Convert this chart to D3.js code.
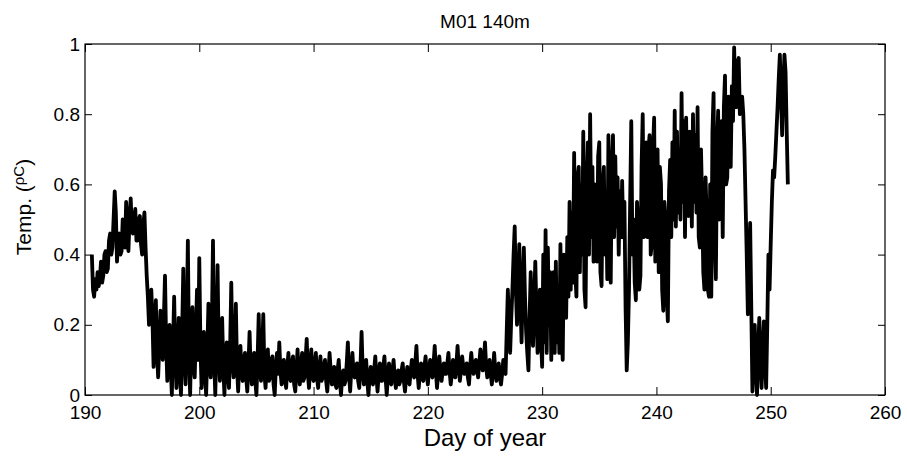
<!DOCTYPE html>
<html>
<head>
<meta charset="utf-8">
<script src="https://cdn.jsdelivr.net/npm/d3@7"></script>
<style>
  body { margin: 0; background: #fff; }
  svg { display: block; font-family: "Liberation Sans", Arial, sans-serif; }
  .tick text { font-size: 19px; fill: #000; }
  .tick line { stroke: #000; }
</style>
</head>
<body>
<div id="chart"></div>
<script>
/*
 * Data: temperature at M01 140m, one value every 0.1 day
 */
const startDay = 190.6;
const stepDay = 0.1;

const temp190 = [0.40, 0.30, 0.28, 0.33,
  0.30, 0.35, 0.31, 0.33, 0.38, 0.32, 0.34, 0.40, 0.41, 0.35,
  0.36, 0.44, 0.46, 0.40, 0.42, 0.50, 0.58, 0.52, 0.38, 0.44,
  0.46, 0.40, 0.41, 0.50, 0.47, 0.42, 0.55, 0.48, 0.41, 0.50,
  0.56, 0.47, 0.46, 0.50, 0.53, 0.44, 0.44, 0.50, 0.51, 0.43,
  0.40, 0.48, 0.52, 0.42, 0.34, 0.28, 0.20, 0.27, 0.30, 0.22,
  0.08, 0.18, 0.27, 0.12, 0.05, 0.14, 0.24, 0.16, 0.10, 0.22,
  0.34, 0.15, 0.04, 0.12, 0.20, 0.08, 0.00, 0.14, 0.28, 0.12,
  0.02, 0.10, 0.22, 0.06, 0.00, 0.18, 0.36, 0.10, 0.03, 0.20,
  0.44, 0.12, 0.00, 0.16, 0.25, 0.08, 0.05, 0.18, 0.30, 0.10];
const temp200 = [0.39, 0.14, 0.02, 0.10, 0.18, 0.06, 0.00, 0.12, 0.26, 0.08,
  0.05, 0.20, 0.44, 0.10, 0.00, 0.15, 0.37, 0.12, 0.04, 0.16,
  0.22, 0.08, 0.00, 0.10, 0.15, 0.06, 0.02, 0.14, 0.32, 0.10,
  0.05, 0.12, 0.26, 0.08, 0.01, 0.09, 0.14, 0.06, 0.04, 0.10,
  0.12, 0.05, 0.01, 0.08, 0.18, 0.07, 0.03, 0.10, 0.12, 0.04,
  0.00, 0.10, 0.23, 0.08, 0.04, 0.12, 0.23, 0.06, 0.02, 0.09,
  0.13, 0.04, 0.05, 0.10, 0.11, 0.03, 0.00, 0.08, 0.12, 0.06,
  0.15, 0.07, 0.03, 0.09, 0.10, 0.04, 0.02, 0.08, 0.12, 0.05,
  0.04, 0.09, 0.11, 0.03, 0.01, 0.07, 0.13, 0.06, 0.03, 0.08,
  0.12, 0.04, 0.05, 0.10, 0.16, 0.06, 0.02, 0.08, 0.13, 0.05];
const temp210 = [0.04, 0.09, 0.12, 0.05, 0.02, 0.07, 0.11, 0.04, 0.05, 0.08,
  0.10, 0.04, 0.01, 0.06, 0.12, 0.07, 0.03, 0.06, 0.08, 0.03,
  0.02, 0.07, 0.10, 0.04, 0.00, 0.05, 0.07, 0.03, 0.04, 0.09,
  0.15, 0.06, 0.01, 0.07, 0.12, 0.06, 0.05, 0.08, 0.09, 0.04,
  0.02, 0.08, 0.18, 0.07, 0.03, 0.06, 0.10, 0.04, 0.00, 0.05,
  0.08, 0.04, 0.03, 0.07, 0.11, 0.05, 0.01, 0.06, 0.09, 0.04,
  0.04, 0.08, 0.11, 0.05, 0.00, 0.05, 0.09, 0.04, 0.03, 0.07,
  0.10, 0.05, 0.02, 0.05, 0.07, 0.03, 0.04, 0.07, 0.09, 0.04,
  0.01, 0.05, 0.08, 0.04, 0.03, 0.07, 0.10, 0.06, 0.05, 0.09,
  0.14, 0.06, 0.02, 0.06, 0.09, 0.05, 0.04, 0.08, 0.11, 0.06];
const temp220 = [0.03, 0.07, 0.10, 0.06, 0.05, 0.09, 0.14, 0.07, 0.02, 0.06,
  0.11, 0.07, 0.04, 0.07, 0.09, 0.06, 0.06, 0.09, 0.12, 0.07,
  0.03, 0.06, 0.10, 0.07, 0.05, 0.09, 0.14, 0.08, 0.04, 0.07,
  0.11, 0.08, 0.06, 0.08, 0.09, 0.05, 0.03, 0.08, 0.12, 0.08,
  0.06, 0.08, 0.10, 0.07, 0.05, 0.09, 0.13, 0.09, 0.07, 0.10,
  0.15, 0.08, 0.05, 0.07, 0.10, 0.06, 0.03, 0.07, 0.12, 0.07,
  0.04, 0.06, 0.09, 0.05, 0.03, 0.06, 0.10, 0.07, 0.06, 0.18,
  0.30, 0.20, 0.12, 0.22, 0.30, 0.40, 0.48, 0.30, 0.20, 0.32,
  0.43, 0.26, 0.15, 0.30, 0.42, 0.28, 0.18, 0.12, 0.07, 0.22,
  0.35, 0.22, 0.14, 0.26, 0.38, 0.24, 0.12, 0.20, 0.30, 0.16];
const temp230 = [0.08, 0.40, 0.15, 0.47, 0.12, 0.42, 0.20, 0.35, 0.10, 0.30,
  0.35, 0.12, 0.38, 0.15, 0.30, 0.12, 0.43, 0.18, 0.10, 0.40,
  0.38, 0.22, 0.45, 0.28, 0.55, 0.30, 0.52, 0.32, 0.69, 0.35,
  0.28, 0.62, 0.65, 0.35, 0.60, 0.40, 0.75, 0.30, 0.25, 0.60,
  0.72, 0.40, 0.80, 0.45, 0.65, 0.38, 0.60, 0.42, 0.38, 0.68,
  0.72, 0.35, 0.31, 0.60, 0.65, 0.40, 0.55, 0.33, 0.74, 0.45,
  0.32, 0.65, 0.74, 0.45, 0.68, 0.48, 0.62, 0.40, 0.58, 0.45,
  0.61, 0.45, 0.55, 0.25, 0.07, 0.15, 0.30, 0.55, 0.78, 0.40,
  0.50, 0.32, 0.27, 0.55, 0.48, 0.30, 0.34, 0.65, 0.80, 0.45,
  0.50, 0.72, 0.45, 0.70, 0.74, 0.40, 0.43, 0.70, 0.79, 0.38];
const temp240 = [0.45, 0.70, 0.35, 0.65, 0.60, 0.30, 0.24, 0.55, 0.50, 0.28,
  0.21, 0.58, 0.67, 0.45, 0.72, 0.50, 0.81, 0.48, 0.75, 0.52,
  0.70, 0.50, 0.86, 0.55, 0.78, 0.45, 0.79, 0.52, 0.51, 0.75,
  0.65, 0.48, 0.80, 0.55, 0.74, 0.52, 0.82, 0.45, 0.42, 0.70,
  0.55, 0.35, 0.30, 0.62, 0.50, 0.30, 0.28, 0.60, 0.28, 0.75,
  0.86, 0.45, 0.33, 0.70, 0.81, 0.50, 0.55, 0.78, 0.45, 0.82,
  0.91, 0.60, 0.62, 0.85, 0.75, 0.65, 0.88, 0.78, 0.99, 0.85,
  0.82, 0.95, 0.96, 0.80, 0.81, 0.85, 0.80, 0.70, 0.55, 0.40,
  0.23, 0.35, 0.49, 0.25, 0.01, 0.10, 0.20, 0.08, 0.00, 0.12,
  0.22, 0.10, 0.02, 0.12, 0.21, 0.10, 0.02, 0.20, 0.40, 0.30];
const temp250 = [0.43, 0.55, 0.64, 0.62, 0.68, 0.75, 0.82, 0.90, 0.97, 0.85,
  0.74, 0.88, 0.97, 0.92, 0.75, 0.60];

const xTicks = [190, 200, 210, 220, 230, 240, 250, 260];
const yTicks = [0, 0.2, 0.4, 0.6, 0.8, 1];

const series = [...temp190, ...temp200, ...temp210, ...temp220, ...temp230, ...temp240, ...temp250]
  .map((v, i) => ({ day: startDay + i * stepDay, temp: v }));

/*
 * Layout
 */
const width = 907;
const height = 457;
const margin = { top: 44, right: 22, bottom: 62, left: 85 };
const plotW = width - margin.left - margin.right;
const plotH = height - margin.top - margin.bottom;

const x = d3.scaleLinear().domain([190, 260]).range([0, plotW]);
const y = d3.scaleLinear().domain([0, 1]).range([plotH, 0]);

const svg = d3.select('#chart')
  .append('svg')
    .attr('width', width)
    .attr('height', height);

const g = svg.append('g')
    .attr('transform', `translate(${margin.left}, ${margin.top})`);

// data line
const line = d3.line()
    .x(d => x(d.day))
    .y(d => y(d.temp));

g.append('path')
    .datum(series)
    .attr('fill', 'none')
    .attr('stroke', '#000')
    .attr('stroke-width', 3.8)
    .attr('stroke-linejoin', 'round')
    .attr('d', line);

// axes, ticks pointing inwards on all four sides
g.append('g')
    .attr('transform', `translate(0, ${plotH})`)
    .call(d3.axisBottom(x).tickValues(xTicks).tickSize(-8).tickPadding(11))
    .call(a => a.select('.domain').remove());

g.append('g')
    .call(d3.axisTop(x).tickValues(xTicks).tickSize(-8).tickFormat(''))
    .call(a => a.select('.domain').remove());

g.append('g')
    .call(d3.axisLeft(y).tickValues(yTicks).tickSize(-7).tickPadding(5).tickFormat(d3.format('~g')))
    .call(a => a.select('.domain').remove());

g.append('g')
    .attr('transform', `translate(${plotW}, 0)`)
    .call(d3.axisRight(y).tickValues(yTicks).tickSize(-7).tickFormat(''))
    .call(a => a.select('.domain').remove());

g.append('rect')
    .attr('width', plotW)
    .attr('height', plotH)
    .attr('fill', 'none')
    .attr('stroke', '#000')
    .attr('stroke-width', 1.2);

// titles
svg.append('text')
    .attr('x', margin.left + plotW / 2)
    .attr('y', 28)
    .attr('text-anchor', 'middle')
    .style('font-size', '19px')
    .text('M01 140m');

svg.append('text')
    .attr('x', margin.left + plotW / 2)
    .attr('y', 446)
    .attr('text-anchor', 'middle')
    .style('font-size', '24px')
    .text('Day of year');

const yTitle = svg.append('text')
    .attr('transform', `translate(31, 207) rotate(-90)`)
    .attr('text-anchor', 'middle')
    .style('font-size', '21px');
yTitle.append('tspan').text('Temp. (');
yTitle.append('tspan').attr('dy', -7).style('font-size', '15px').text('ρC');
yTitle.append('tspan').attr('dy', 7).text(')');
</script>
</body>
</html>
